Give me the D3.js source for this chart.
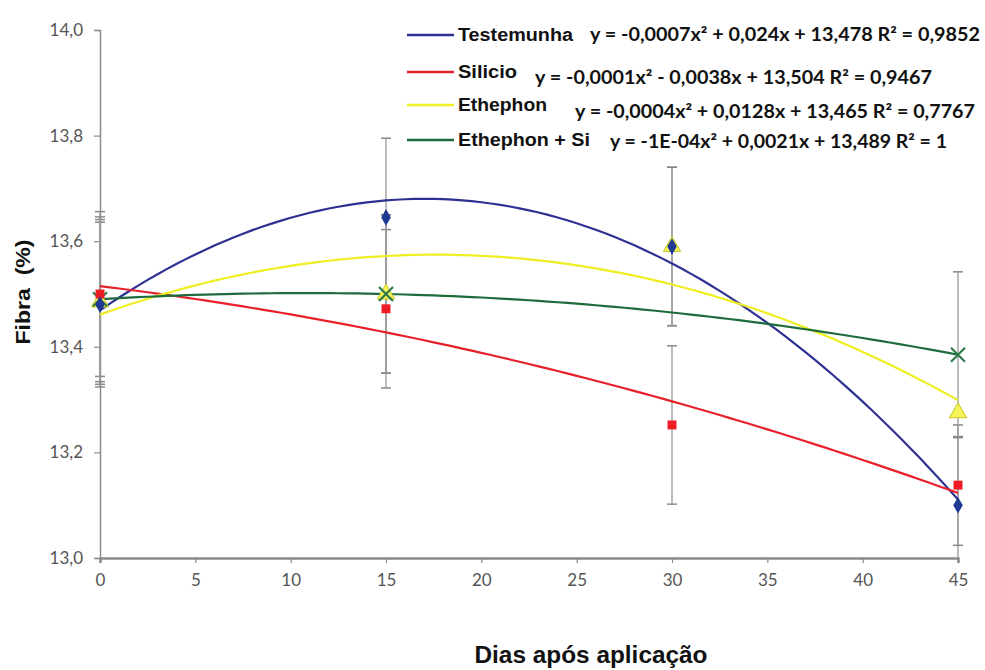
<!DOCTYPE html>
<html><head><meta charset="utf-8">
<script src="https://cdn.jsdelivr.net/npm/d3@7"></script>
<style>body{margin:0;background:#fff}</style></head><body>
<svg id="c" width="985" height="670"></svg>
<script>
// ---- data ----
const days = [0, 15, 30, 45];
const seriesNames = ["Testemunha", "Silicio", "Ethephon", "Ethephon + Si"];
const testemunha = [13.48, 13.645, 13.59, 13.10];
const silicio = [13.50, 13.472, 13.252, 13.138];
const ethephon = [13.485, 13.50, 13.59, 13.275];
const ethephonSi = [13.49, 13.50, null, 13.385];
const errTestemunha = [0.156, 0.15, 0.15, 0.13];
const errSilicio = [0.156, 0.15, 0.15, 0.114];
const errEthephon = [0.156, 0.15, 0.15, 0.0];
const errEthephonSi = [0.156, 0.15, 0.0, 0.157];
const equations = [
  "y = -0,0007x\u00B2 + 0,024x + 13,478 R\u00B2 = 0,9852",
  "y = -0,0001x\u00B2 - 0,0038x + 13,504 R\u00B2 = 0,9467",
  "y = -0,0004x\u00B2 + 0,0128x + 13,465 R\u00B2 = 0,7767",
  "y = -1E-04x\u00B2 + 0,0021x + 13,489 R\u00B2 = 1"
];
const xTicks = [0, 5, 10, 15, 20, 25, 30, 35, 40, 45];
const yTicks = [13.0, 13.2, 13.4, 13.6, 13.8, 14.0];
const xTitle = "Dias após aplicação";
const yTitle = "Fibra  (%)";

// ---- styling ----
const colors = ["#2e3192", "#e8202a", "#eeee22", "#1e6b3c"];
const markerFill = ["#1f3a93", "#ee1c25", "#f5f25a", "#2f7a4a"];
const svg = d3.select("#c");
const m = {l: 100, r: 958, t: 30, b: 558};
const x = d3.scaleLinear().domain([0, 45]).range([m.l, m.r]);
const y = d3.scaleLinear().domain([13.0, 14.0]).range([m.b, m.t]);

const series = [testemunha, silicio, ethephon, ethephonSi];
const errs = [errTestemunha, errSilicio, errEthephon, errEthephonSi];

svg.append("defs").append("clipPath").attr("id", "clip")
  .append("rect").attr("x", m.l - 10).attr("y", m.t - 10).attr("width", m.r - m.l + 30).attr("height", m.b - m.t + 10);

// axes
const fmt = v => d3.format(".1f")(v).replace(".", ",");
const yAxis = svg.append("g").attr("transform", `translate(${m.l},0)`)
  .call(d3.axisLeft(y).tickValues(yTicks).tickFormat(fmt).tickSize(6).tickPadding(11));
const xAxis = svg.append("g").attr("transform", `translate(0,${m.b})`)
  .call(d3.axisBottom(x).tickValues(xTicks).tickSize(5).tickPadding(11));
[xAxis, yAxis].forEach(a => {
  a.select(".domain").attr("stroke", "#8a8a8a").attr("stroke-width", 1.5);
  a.selectAll(".tick line").attr("stroke", "#8a8a8a").attr("stroke-width", 1.2);
  a.selectAll("text").attr("fill", "#555").style("font-family", "Lato, 'Open Sans', sans-serif").style("font-size", "17px");
});
xAxis.select(".domain").attr("stroke-width", 2.5);

// error bars
const eg = svg.append("g").attr("clip-path", "url(#clip)");
series.forEach((s, i) => {
  s.forEach((v, j) => {
    const e = errs[i][j];
    if (v == null || !e) return;
    const cx = x(days[j]);
    const y1 = y(v + e), y2 = Math.min(y(v - e), m.b);
    eg.append("line").attr("x1", cx).attr("x2", cx).attr("y1", y1).attr("y2", y2)
      .attr("stroke", "#999").attr("stroke-width", 1.3);
    [v + e, v - e].forEach(c => {
      if (y(c) > m.b) return;
      eg.append("line").attr("x1", cx - 5).attr("x2", cx + 5).attr("y1", y(c)).attr("y2", y(c))
        .attr("stroke", "#888").attr("stroke-width", 1.5);
    });
  });
});

// quadratic least squares trendline
function quadFit(xsAll, ysAll) {
  const xs = [], ys = [];
  xsAll.forEach((xv, k) => { if (ysAll[k] != null) { xs.push(xv); ys.push(ysAll[k]); } });
  let S = Array(5).fill(0), T = Array(3).fill(0);
  xs.forEach((xv, k) => {
    for (let p = 0; p < 5; p++) S[p] += Math.pow(xv, p);
    for (let p = 0; p < 3; p++) T[p] += Math.pow(xv, p) * ys[k];
  });
  const A = [[S[0], S[1], S[2], T[0]], [S[1], S[2], S[3], T[1]], [S[2], S[3], S[4], T[2]]];
  for (let i = 0; i < 3; i++) {
    for (let k = i + 1; k < 3; k++) {
      const f = A[k][i] / A[i][i];
      for (let j = i; j < 4; j++) A[k][j] -= f * A[i][j];
    }
  }
  const c = [0, 0, 0];
  for (let i = 2; i >= 0; i--) {
    let s = A[i][3];
    for (let j = i + 1; j < 3; j++) s -= A[i][j] * c[j];
    c[i] = s / A[i][i];
  }
  return xv => c[0] + c[1] * xv + c[2] * xv * xv;
}
const line = d3.line().x(d => x(d[0])).y(d => y(d[1]));
const lg = svg.append("g");
series.forEach((s, i) => {
  const f = quadFit(days, s);
  const pts = d3.range(0, 45.01, 0.5).map(t => [t, f(t)]);
  lg.append("path").attr("d", line(pts)).attr("fill", "none")
    .attr("stroke", colors[i]).attr("stroke-width", 2.2);
});

// markers (Testemunha drawn last so it shows over the triangle at 30)
const mg = svg.append("g");
const shapes = [d3.symbolDiamond, d3.symbolSquare, d3.symbolTriangle, null];
[2, 3, 1, 0].forEach(i => {
  series[i].forEach((v, j) => {
    if (v == null) return;
    const cx = x(days[j]), cy = y(v);
    if (i === 3) {
      const r = 7;
      mg.append("path").attr("d", `M${cx - r},${cy - r}L${cx + r},${cy + r}M${cx - r},${cy + r}L${cx + r},${cy - r}`)
        .attr("stroke", markerFill[i]).attr("stroke-width", 2.2).attr("fill", "none");
    } else {
      const size = i === 0 ? 80 : i === 1 ? 80 : 130;
      mg.append("path").attr("d", d3.symbol().type(shapes[i]).size(size)())
        .attr("transform", `translate(${cx},${cy})`)
        .attr("fill", markerFill[i])
        .attr("stroke", i === 2 ? "#c8c820" : "none").attr("stroke-width", 1);
    }
  });
});

// legend
const legY = [35, 72, 105, 140];
const eqY = [35, 78, 112, 142];
const eqX = [590, 535, 575, 610];
const eqW = [390, 397, 400, 337];
const labW = [115, 59, 89, 132];
const leg = svg.append("g");
seriesNames.forEach((n, i) => {
  leg.append("line").attr("x1", 407).attr("x2", 454).attr("y1", legY[i]).attr("y2", legY[i])
    .attr("stroke", colors[i]).attr("stroke-width", 2.5);
  leg.append("text").attr("x", 458).attr("y", legY[i] + 6).text(n)
    .attr("textLength", labW[i]).attr("lengthAdjust", "spacingAndGlyphs")
    .style("font-family", "'Liberation Sans', Arial, sans-serif").style("font-weight", "bold")
    .style("font-size", "18px").attr("fill", "#111");
  leg.append("text").attr("x", eqX[i]).attr("y", eqY[i] + 6).text(equations[i])
    .attr("textLength", eqW[i]).attr("lengthAdjust", "spacingAndGlyphs")
    .style("font-family", "Lato, sans-serif").style("font-weight", "bold")
    .style("font-size", "18px").attr("fill", "#111");
});

// titles
svg.append("text").attr("transform", `translate(30,292) rotate(-90)`)
  .attr("text-anchor", "middle").text(yTitle).style("white-space", "pre")
  .attr("textLength", 105).attr("lengthAdjust", "spacingAndGlyphs")
  .style("font-family", "'Liberation Sans', Arial, sans-serif").style("font-weight", "bold")
  .style("font-size", "21px").attr("fill", "#111");
svg.append("text").attr("x", 591).attr("y", 663).attr("text-anchor", "middle").text(xTitle)
  .attr("textLength", 233).attr("lengthAdjust", "spacingAndGlyphs")
  .style("font-family", "'Liberation Sans', Arial, sans-serif").style("font-weight", "bold")
  .style("font-size", "23px").attr("fill", "#111");
</script></body></html>
